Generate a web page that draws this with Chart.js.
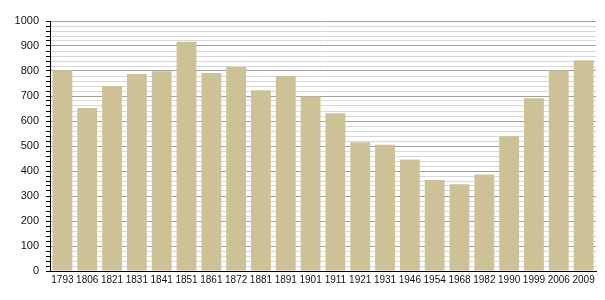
<!DOCTYPE html>
<html>
<head>
<meta charset="utf-8">
<script src="https://cdn.jsdelivr.net/npm/chart.js@4"></script>
<style>
  body { margin: 0; background: #fff; }
  #wrap { width: 605px; height: 300px; }
</style>
</head>
<body>
<div id="wrap"><canvas id="popChart" width="605" height="300"></canvas></div>
<script>
// census years and population
var years = ["1793", "1806", "1821", "1831", "1841", "1851", "1861", "1872", "1881", "1891", "1901",
             "1911", "1921", "1931", "1946", "1954", "1968", "1982", "1990", "1999", "2006", "2009"];
var population = [803, 652, 740, 788, 799, 917, 792, 817, 723, 780, 698,
                  631, 515, 505, 446, 364, 347, 386, 539, 691, 802, 843];

var yMax = 1000;
var yStep = 20;      // minor grid every 20
var yLabelStep = 100; // labels every 100

var ctx = document.getElementById('popChart').getContext('2d');
var chart = new Chart(ctx, {
    type: 'bar',
    data: {
        labels: years,
        datasets: [{
            label: 'Population',
            backgroundColor: '#cdc297',
            borderWidth: 0,
            data: population,
            barPercentage: 0.8,
            categoryPercentage: 1.0
        }]
    },
    options: {
        responsive: false,
        animation: false,
        layout: { padding: { top: 21, right: 9, left: 0, bottom: 0 } },
        plugins: {
            legend: { display: false },
            tooltip: { enabled: false }
        },
        scales: {
            x: {
                grid: { display: false, drawTicks: false },
                border: { color: '#000', width: 1 },
                ticks: {
                    color: '#111',
                    font: { family: 'Liberation Sans', size: 10 },
                    maxRotation: 0,
                    autoSkip: false,
                    padding: 3
                },
                afterFit: function(scale) { scale.height = 29; }
            },
            y: {
                min: 0,
                max: yMax,
                border: { color: '#000', width: 1 },
                grid: {
                    color: function(c) {
                        return c.tick && c.tick.value % yLabelStep === 0 ? '#a0a0a0' : '#d8d8d8';
                    },
                    tickColor: '#000',
                    tickLength: 4,
                    lineWidth: 1
                },
                ticks: {
                    stepSize: yStep,
                    autoSkip: false,
                    color: '#111',
                    font: { family: 'Liberation Sans', size: 11 },
                    padding: 7,
                    callback: function(v) { return v % yLabelStep === 0 ? v : ''; }
                },
                afterFit: function(scale) { scale.width = 50; }
            }
        }
    }
});
</script>
</body>
</html>
